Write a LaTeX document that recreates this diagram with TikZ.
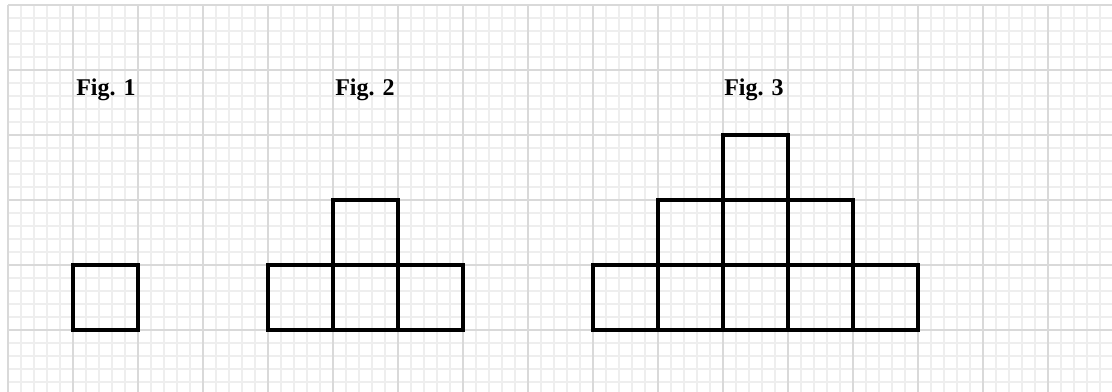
\documentclass[tikz,border=0pt]{standalone}
\usepackage{fontspec}
\setmainfont{Liberation Serif}
\definecolor{minorgrid}{HTML}{EEEEEE}
\definecolor{majorgrid}{HTML}{D9D9D9}
\begin{document}
\begin{tikzpicture}[x=0.75pt,y=-0.75pt,
  minorline/.style={draw=minorgrid,line width=0.8pt},
  majorline/.style={draw=majorgrid,line width=1.1pt},
  tile/.style={draw=black,line width=2.3pt,line join=miter},
  figlabel/.style={anchor=base west,inner sep=0pt,font=\fontsize{18}{20}\selectfont\bfseries}]
\useasboundingbox (0,0) rectangle (1112,392);
\fill[white] (0,0) rectangle (1112,392);
% minor grid
\foreach \k in {0,...,84} {\draw[minorline] ({8+13*\k},5) -- ({8+13*\k},392);}
\foreach \k in {0,...,29} {\draw[minorline] (8,{5+13*\k}) -- (1112,{5+13*\k});}
% major grid
\foreach \k in {0,...,16} {\draw[majorline] ({8+65*\k},5) -- ({8+65*\k},392);}
\foreach \k in {0,...,5} {\draw[majorline] (8,{5+65*\k}) -- (1112,{5+65*\k});}
% labels
\node[figlabel] (f1) at (76,96) {Fig. 1};
\node[figlabel] (f2) at (335,96) {Fig. 2};
\node[figlabel] (f3) at (724,96) {Fig. 3};
% Fig 1
\draw[tile] (73,265) rectangle (138,330);
% Fig 2
\foreach \x in {268,333,398} {\draw[tile] (\x,265) rectangle ({\x+65},330);}
\draw[tile] (333,200) rectangle (398,265);
% Fig 3
\foreach \x in {593,658,723,788,853} {\draw[tile] (\x,265) rectangle ({\x+65},330);}
\foreach \x in {658,723,788} {\draw[tile] (\x,200) rectangle ({\x+65},265);}
\draw[tile] (723,135) rectangle (788,200);
\end{tikzpicture}
\end{document}
